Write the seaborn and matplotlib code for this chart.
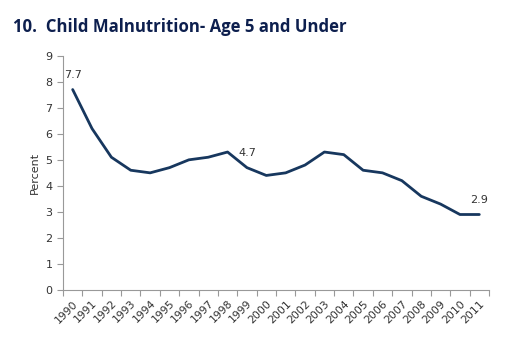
import matplotlib
matplotlib.use("Agg")
import matplotlib.pyplot as plt
import seaborn as sns
import pandas as pd
import numpy as np

# chart data
years = [str(y) for y in range(1990, 2012)]
percent = [7.7, 6.2, 5.1, 4.6, 4.5, 4.7, 5.0, 5.1, 5.3, 4.7, 4.4,
           4.5, 4.8, 5.3, 5.2, 4.6, 4.5, 4.2, 3.6, 3.3, 2.9, 2.9]
labelled_years = ["1990", "1999", "2011"]

df = pd.DataFrame({"year": years, "percent": percent})
df["pos"] = np.arange(len(df))

sns.set_style("white")
plt.rcParams["font.family"] = ["DejaVu Sans"]

fig = plt.figure(figsize=(5.15, 3.51), dpi=100)
ax = fig.add_axes([0.1223, 0.1738, 0.8272, 0.6675])

sns.lineplot(data=df, x="pos", y="percent", ax=ax, color="#17375e",
             linewidth=2.0, legend=False)

# data labels
for _, row in df[df["year"].isin(labelled_years)].iterrows():
    ax.annotate(f"{row['percent']:.1f}", (row["pos"], row["percent"]),
                xytext=(0, 7), textcoords="offset points", ha="center",
                va="bottom", fontsize=8, color="#333333")

ax.set_xlim(-0.5, len(df) - 0.5)
ax.set_ylim(0, 9)
ax.set_yticks(range(0, 10))
ax.set_xticks(df["pos"])
ax.set_xticklabels(df["year"], rotation=45, ha="right",
                   rotation_mode="anchor")
# category boundaries get the tick marks
ax.set_xticks(np.arange(-0.5, len(df)), minor=True)
ax.tick_params(axis="x", which="major", length=0, pad=6,
               labelsize=7.8, labelcolor="#333333")
ax.tick_params(axis="x", which="minor", length=4, width=0.8,
               color="#999999", direction="out", bottom=True)
ax.tick_params(axis="y", length=4, width=0.8, color="#999999",
               direction="out", left=True, labelsize=8, labelcolor="#333333")

ax.set_xlabel("")
ax.set_ylabel("Percent", fontsize=8, color="#333333", labelpad=4)

for side in ["top", "right"]:
    ax.spines[side].set_visible(False)
for side in ["left", "bottom"]:
    ax.spines[side].set_color("#999999")
    ax.spines[side].set_linewidth(0.8)

fig.text(0.025, 0.922, "10.  Child Malnutrition- Age 5 and Under",
         fontsize=12.1, fontweight="bold", color="#0d1f4e",
         family=["Open Sans", "DejaVu Sans"], va="center", ha="left")

fig.savefig("out.png", dpi=100)
